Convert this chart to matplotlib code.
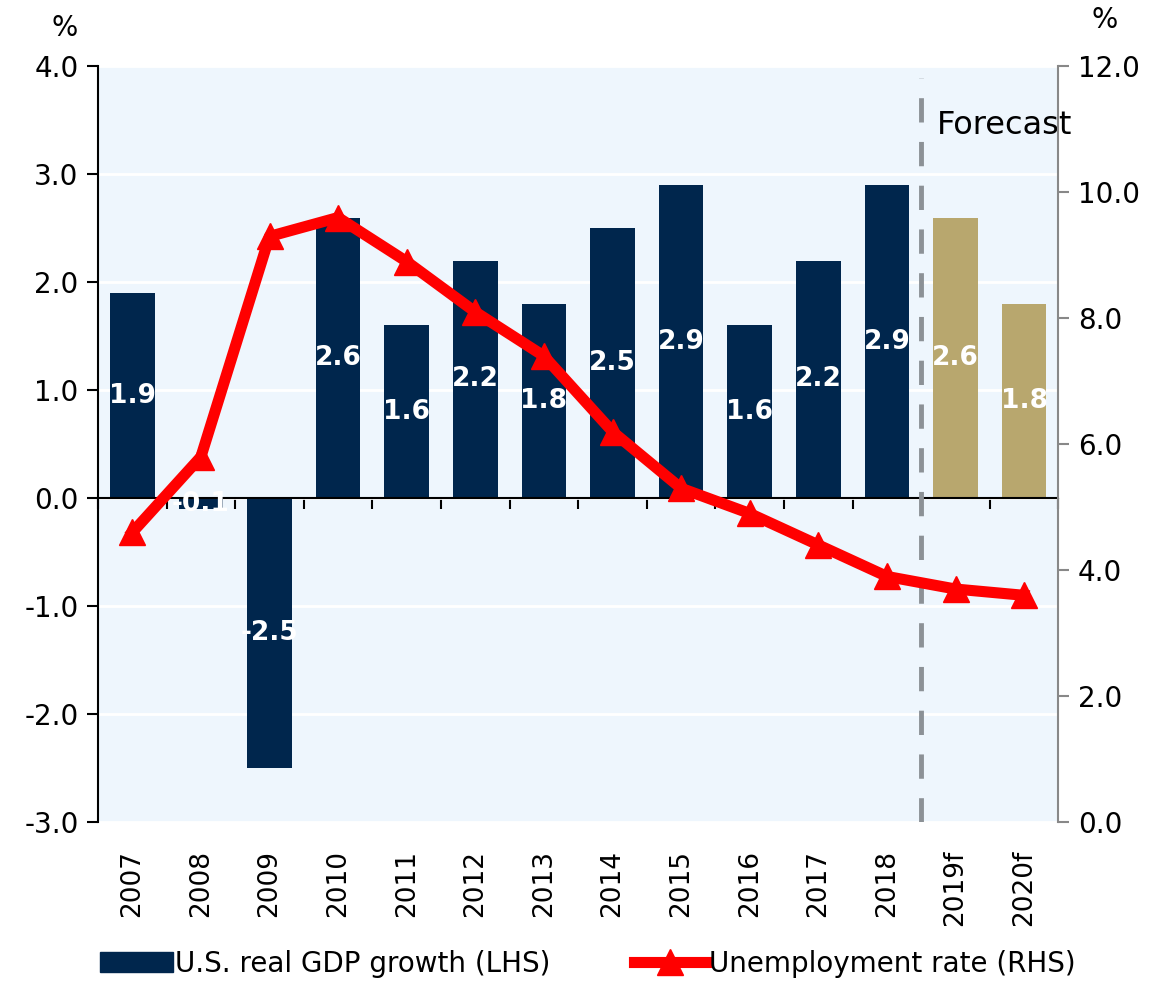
import numpy as np
import matplotlib
matplotlib.use("Agg")
import matplotlib.pyplot as plt
import matplotlib.patches as mpatches

# data
years = ["2007", "2008", "2009", "2010", "2011", "2012", "2013",
         "2014", "2015", "2016", "2017", "2018", "2019f", "2020f"]
gdp = [1.9, -0.1, -2.5, 2.6, 1.6, 2.2, 1.8, 2.5, 2.9, 1.6, 2.2, 2.9, 2.6, 1.8]
gdp_labels = ["1.9", "-0.1", "-2.5", "2.6", "1.6", "2.2", "1.8",
              "2.5", "2.9", "1.6", "2.2", "2.9", "2.6", "1.8"]
unemp = [4.6, 5.8, 9.3, 9.6, 8.9, 8.1, 7.4, 6.2, 5.3, 4.9, 4.4, 3.9, 3.7, 3.6]
n_forecast = 2

navy = "#00264D"
gold = "#B8A76E"
red = "#FF0000"
bg = "#EEF6FD"

plt.rcParams['font.family'] = ['DejaVu Sans']

fig = plt.figure(figsize=(11.53, 9.91), dpi=100)
ax = fig.add_axes([0.085, 0.1705, 0.833, 0.7625])
ax.set_facecolor(bg)

x = np.arange(len(years))
colors = [navy] * (len(years) - n_forecast) + [gold] * n_forecast
bars = ax.bar(x, gdp, width=0.65, color=colors, zorder=2)
ax.bar_label(bars, labels=gdp_labels, label_type='center', color='white',
             fontsize=19, fontweight='bold', zorder=5)

ax.set_ylim(-3, 4)
ax.set_yticks(np.arange(-3, 4.01, 1))
ax.set_yticklabels([f"{v:.1f}" for v in np.arange(-3, 4.01, 1)])
ax.set_xlim(-0.5, len(years) - 0.5)
ax.grid(axis='y', color='white', lw=2, zorder=0)
ax.set_axisbelow(True)

ax.set_xticks(x)
ax.set_xticklabels(years, rotation=90, fontsize=19)
ax.tick_params(axis='x', length=0, pad=20)
ax.tick_params(axis='y', labelsize=20, length=8, width=1.5, direction='out', pad=6)

for s in ['top', 'bottom', 'right']:
    ax.spines[s].set_visible(False)
ax.spines['left'].set_linewidth(1.5)

# zero line with category boundary ticks
ax.axhline(0, color='black', lw=1.5, zorder=3)
sec = ax.secondary_xaxis(0, transform=ax.transData)
sec.set_xticks(np.arange(-0.5, len(years), 1))
sec.set_xticklabels([])
sec.tick_params(length=8, width=1.5, direction='out')

# forecast divider
ax.axvline(len(years) - n_forecast - 0.5, color="#8C9196", lw=3.5,
           ls=(0, (5, 4)), ymax=0.985, zorder=3)
ax.text(len(years) - n_forecast - 0.27, 3.45, "Forecast", fontsize=23,
        va='center', ha='left', zorder=6)

ax2 = ax.twinx()
ax2.set_ylim(0, 12)
ax2.set_yticks(np.arange(0, 12.01, 2))
ax2.set_yticklabels([f"{v:.1f}" for v in np.arange(0, 12.01, 2)])
line, = ax2.plot(x, unemp, color=red, lw=8, marker='^', markersize=19,
                 zorder=4, label="Unemployment rate (RHS)")
for s in ['top', 'bottom', 'left']:
    ax2.spines[s].set_visible(False)
ax2.spines['right'].set_color("#888888")
ax2.spines['right'].set_linewidth(1.5)
ax2.tick_params(axis='y', labelsize=20, length=8, width=1.5, color="#888888",
                pad=6)

fig.text(0.056, 0.972, "%", fontsize=20, ha='center', va='center')
fig.text(0.958, 0.980, "%", fontsize=20, ha='center', va='center')

gdp_handle = mpatches.Patch(color=navy, label="U.S. real GDP growth (LHS)")
fig.legend(handles=[gdp_handle, line], loc='lower center',
           bbox_to_anchor=(0.51, -0.012), ncol=2, frameon=False, fontsize=20,
           columnspacing=3.0, handlelength=2.6, handletextpad=0.1)

fig.savefig("out.png", dpi=100)
